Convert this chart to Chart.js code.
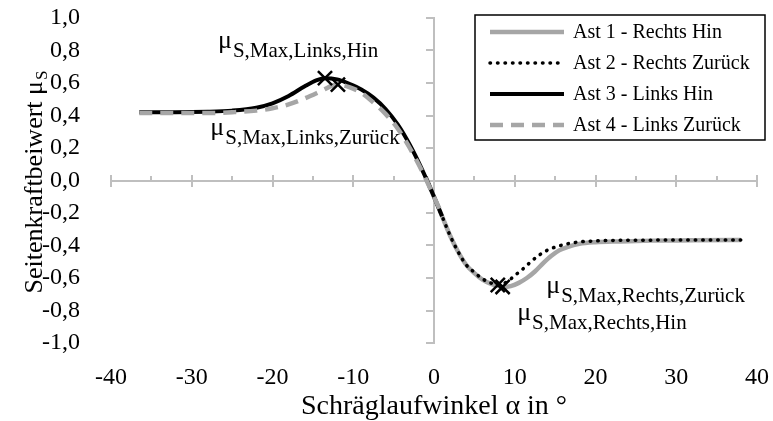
<!DOCTYPE html>
<html>
<head>
<meta charset="utf-8">
<script src="https://cdn.jsdelivr.net/npm/chart.js@4/dist/chart.umd.min.js"></script>
<style>
  html, body { margin: 0; padding: 0; background: #fff; }
</style>
</head>
<body>
<canvas id="chart" width="773" height="421"></canvas>
<script>
// Ast 1 - Rechts Hin
const ast1X = [-1, 0, 1, 2, 3, 4, 5, 6, 7, 8, 8.5, 9.5, 10.5, 11.5, 12.5, 13.5, 14.5, 15.5, 16.5, 18, 20, 23, 27, 32, 38]
const ast1Y = [0.02, -0.1, -0.22, -0.34, -0.44, -0.52, -0.57, -0.61, -0.635, -0.65, -0.655, -0.65, -0.63, -0.6, -0.56, -0.51, -0.465, -0.43, -0.41, -0.39, -0.38, -0.375, -0.37, -0.368, -0.366]

// Ast 2 - Rechts Zurück
const ast2X = [-1, 0, 1, 2, 3, 4, 5, 6, 7, 7.9, 9, 10, 11, 12, 13, 14, 15, 16.5, 18, 20, 23, 27, 32, 38]
const ast2Y = [0.02, -0.1, -0.22, -0.34, -0.44, -0.52, -0.565, -0.605, -0.63, -0.643, -0.625, -0.585, -0.545, -0.5, -0.46, -0.43, -0.41, -0.39, -0.378, -0.372, -0.368, -0.367, -0.366, -0.366]

// Ast 3 - Links Hin
const ast3X = [-36.5, -32, -28, -25, -22, -20, -18, -16, -14.5, -13.5, -12, -10.5, -9, -7.5, -6, -4.5, -3, -1.5, 0, 1]
const ast3Y = [0.42, 0.42, 0.423, 0.43, 0.448, 0.475, 0.52, 0.58, 0.618, 0.63, 0.622, 0.595, 0.56, 0.51, 0.44, 0.345, 0.22, 0.07, -0.1, -0.22]

// Ast 4 - Links Zurück
const ast4X = [-36.5, -32, -28, -25, -22, -20, -18, -16, -14, -12.5, -11.9, -10.5, -9, -7.5, -6, -4.5, -3, -1.5, 0, 1]
const ast4Y = [0.415, 0.415, 0.415, 0.42, 0.43, 0.445, 0.468, 0.505, 0.55, 0.585, 0.59, 0.575, 0.54, 0.48, 0.41, 0.32, 0.2, 0.06, -0.1, -0.21]

// maxima: Links Hin, Links Zurück, Rechts Hin, Rechts Zurück
const maxX = [-13.5, -11.9, 8.5, 7.9]
const maxY = [0.63, 0.59, -0.655, -0.643]
const maxLabels = ['S,Max,Links,Hin', 'S,Max,Links,Zurück', 'S,Max,Rechts,Hin', 'S,Max,Rechts,Zurück']
// label anchors (left end, baseline of the μ), in axis units
const labelX = [-26.75, -27.7, 10.3, 13.9]
const labelY = [0.815, 0.28, -0.86, -0.69]

const xTitle = 'Schräglaufwinkel α in °'
const yTitle = 'Seitenkraftbeiwert μ'
const yTitleSub = 'S'

const FONT = "'Liberation Serif', 'Times New Roman', serif"
const GRAY = 'rgb(166, 166, 166)'
const AXIS_GRAY = 'rgb(191, 191, 191)'

const points = (xs, ys) => xs.map((x, i) => ({ x, y: ys[i] }))

// Excel style axes crossing at the origin, labels stay at the chart edges
const crossAxes = {
  id: 'crossAxes',
  beforeDatasetsDraw(chart) {
    const { ctx, scales: { x, y } } = chart
    const x0 = Math.round(x.getPixelForValue(0))
    const y0 = Math.round(y.getPixelForValue(0))
    ctx.save()
    ctx.strokeStyle = AXIS_GRAY
    ctx.lineWidth = 2
    ctx.beginPath()
    ctx.moveTo(x.left, y0)
    ctx.lineTo(x.right, y0)
    ctx.moveTo(x0, y.top)
    ctx.lineTo(x0, y.bottom)
    x.ticks.forEach((t, i) => {
      const px = Math.round(x.getPixelForValue(t.value))
      ctx.moveTo(px, y0 - 6)
      ctx.lineTo(px, y0 + 6)
      if (i < x.ticks.length - 1) {
        const pm = Math.round(x.getPixelForValue((t.value + x.ticks[i + 1].value) / 2))
        ctx.moveTo(pm, y0 - 5)
        ctx.lineTo(pm, y0)
      }
    })
    y.ticks.forEach(t => {
      const py = Math.round(y.getPixelForValue(t.value))
      ctx.moveTo(x0 - 8, py)
      ctx.lineTo(x0 + 1, py)
    })
    ctx.stroke()
    ctx.restore()
  }
}

function drawSub(ctx, x, y, main, sub, mainSize, subSize, shift) {
  ctx.font = mainSize + 'px ' + FONT
  ctx.fillText(main, x, y)
  const w = ctx.measureText(main).width
  ctx.font = subSize + 'px ' + FONT
  ctx.fillText(sub, x + w + 1, y + shift)
}

const textBits = {
  id: 'textBits',
  afterDraw(chart) {
    const { ctx, scales: { x, y } } = chart
    ctx.save()
    ctx.fillStyle = '#000'
    ctx.textBaseline = 'alphabetic'
    ctx.textAlign = 'left'

    // labels at the maxima
    maxLabels.forEach((txt, i) => {
      drawSub(ctx, x.getPixelForValue(labelX[i]), y.getPixelForValue(labelY[i]), 'μ', txt, 26, 21, 9)
    })

    // y axis title with subscript
    ctx.save()
    ctx.translate(33, (y.top + y.bottom) / 2 + 2)
    ctx.rotate(-Math.PI / 2)
    ctx.font = '26px ' + FONT
    const w1 = ctx.measureText(yTitle).width
    ctx.font = '17px ' + FONT
    const w2 = ctx.measureText(yTitleSub).width
    drawSub(ctx, -(w1 + w2) / 2, 9, yTitle, yTitleSub, 26, 17, 5)
    ctx.restore()

    // legend box
    const bx = 475, by = 15, bw = 290, bh = 125
    ctx.fillStyle = '#fff'
    ctx.fillRect(bx, by, bw, bh)
    ctx.strokeStyle = '#000'
    ctx.lineWidth = 1.5
    ctx.strokeRect(bx, by, bw, bh)
    chart.data.datasets.slice(0, 4).forEach((ds, i) => {
      const ly = by + 17 + i * 31
      ctx.save()
      ctx.strokeStyle = ds.borderColor
      ctx.lineWidth = ds.borderWidth
      ctx.lineCap = ds.borderCapStyle || 'butt'
      ctx.setLineDash(ds.borderDash || [])
      ctx.beginPath()
      ctx.moveTo(bx + 15, ly)
      ctx.lineTo(bx + 89, ly)
      ctx.stroke()
      ctx.restore()
      ctx.fillStyle = '#000'
      ctx.font = '20px ' + FONT
      ctx.textBaseline = 'middle'
      ctx.fillText(ds.label, bx + 98, ly + 1)
    })
    ctx.restore()
  }
}

const ctx = document.getElementById('chart').getContext('2d')
new Chart(ctx, {
  type: 'line',
  data: {
    datasets: [
      { label: 'Ast 1 - Rechts Hin', data: points(ast1X, ast1Y), borderColor: GRAY, borderWidth: 4.5, order: 5 },
      { label: 'Ast 2 - Rechts Zurück', data: points(ast2X, ast2Y), borderColor: '#000', borderWidth: 3.5, borderDash: [0.5, 7], borderCapStyle: 'round', order: 4 },
      { label: 'Ast 3 - Links Hin', data: points(ast3X, ast3Y), borderColor: '#000', borderWidth: 4, order: 3 },
      { label: 'Ast 4 - Links Zurück', data: points(ast4X, ast4Y), borderColor: GRAY, borderWidth: 4.5, borderDash: [13, 8], order: 2 },
      {
        label: 'Maxima', type: 'scatter', data: points(maxX, maxY),
        pointStyle: 'crossRot', pointRadius: 10, pointBorderWidth: 2.5,
        pointBorderColor: '#000', showLine: false, order: 1
      }
    ]
  },
  options: {
    responsive: false,
    animation: false,
    elements: {
      point: { radius: 0 },
      line: { cubicInterpolationMode: 'monotone', fill: false }
    },
    layout: { padding: { left: 8, right: 16, top: 18, bottom: 0 } },
    plugins: { legend: { display: false }, tooltip: { enabled: false } },
    scales: {
      x: {
        type: 'linear', min: -40, max: 40,
        grid: { display: false, drawTicks: false },
        border: { display: false },
        ticks: { stepSize: 10, padding: 20, autoSkip: false, maxRotation: 0, color: '#000', font: { family: FONT, size: 24 } },
        title: {
          display: true, text: xTitle, color: '#000',
          font: { family: FONT, size: 28, lineHeight: 1 }, padding: { top: 0, bottom: 0 }
        },
        afterFit: s => { s.height = 78; s.paddingLeft = 0; s.paddingRight = 0 }
      },
      y: {
        type: 'linear', min: -1, max: 1,
        grid: { display: false, drawTicks: false },
        border: { display: false },
        ticks: {
          stepSize: 0.2, padding: 31, autoSkip: false, color: '#000', font: { family: FONT, size: 24 },
          callback: v => (Math.abs(v) < 1e-9 ? 0 : v).toFixed(1).replace('.', ',')
        },
        afterFit: s => { s.width = 103; s.paddingTop = 0; s.paddingBottom = 0 }
      }
    }
  },
  plugins: [crossAxes, textBits]
})
</script>
</body>
</html>
